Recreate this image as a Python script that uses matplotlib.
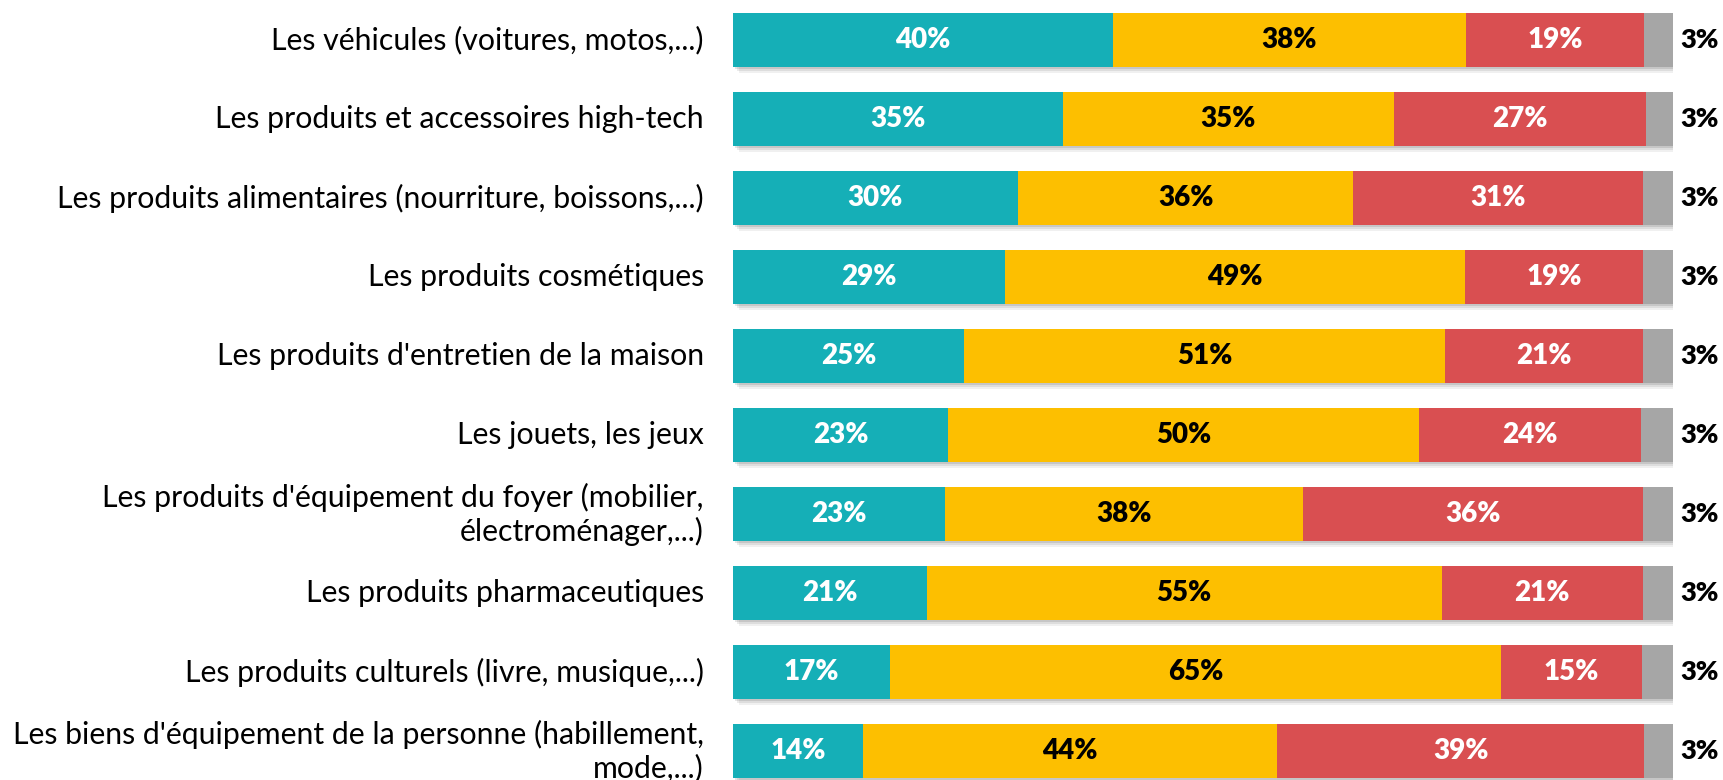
import matplotlib
matplotlib.use("Agg")
import matplotlib.pyplot as plt
import numpy as np

plt.rcParams["font.family"] = ["Lato", "DejaVu Sans"]

categories = [
    "Les véhicules (voitures, motos,...)",
    "Les produits et accessoires high-tech",
    "Les produits alimentaires (nourriture, boissons,...)",
    "Les produits cosmétiques",
    "Les produits d'entretien de la maison",
    "Les jouets, les jeux",
    "Les produits d'équipement du foyer (mobilier,\nélectroménager,...)",
    "Les produits pharmaceutiques",
    "Les produits culturels (livre, musique,...)",
    "Les biens d'équipement de la personne (habillement,\nmode,...)",
]
# shares (labels are the rounded values)
teal = [40.4, 35.1, 30.3, 28.9, 24.6, 22.9, 22.6, 20.6, 16.7, 13.8]
yellow = [37.6, 35.2, 35.7, 49.0, 51.1, 50.1, 38.0, 54.8, 65.0, 44.1]
red = [18.9, 26.8, 30.8, 18.9, 21.1, 23.6, 36.2, 21.4, 15.0, 39.0]
grey = [3.1, 2.9, 3.2, 3.2, 3.2, 3.4, 3.2, 3.2, 3.3, 3.1]

series = [teal, yellow, red, grey]
colors = ["#15AFB7", "#FDBF00", "#D94F51", "#A6A6A6"]
text_colors = ["white", "black", "white", None]

W, H = 1724, 780
fig = plt.figure(figsize=(W / 100, H / 100), dpi=100)
ax = fig.add_axes([733 / W, 0, 940 / W, 1])

n = len(categories)
y = np.arange(n)
bar_h = 0.684

# drop shadow
totals = np.sum(series, axis=0)
for k, a in enumerate([0.10, 0.08, 0.06]):
    dx = 0.25 + 0.2 * k
    dy = 0.03 + 0.02 * k
    ax.barh(y + dy, totals, left=dx, height=bar_h, color="black", alpha=a,
            linewidth=0, zorder=1)

left = np.zeros(n)
for vals, c, tc in zip(series, colors, text_colors):
    vals = np.array(vals)
    ax.barh(y, vals, left=left, height=bar_h, color=c, linewidth=0, zorder=2)
    for i in range(n):
        lab = f"{round(vals[i])}%"
        if tc is None:
            ax.text(left[i] + vals[i] + 2.8, y[i], lab, ha="center", va="center",
                    fontsize=19.5, fontweight="heavy", color="black", zorder=3)
        else:
            ax.text(left[i] + vals[i] / 2, y[i], lab, ha="center", va="center",
                    fontsize=20, fontweight="heavy", color=tc, zorder=3)
    left += vals

ax.set_xlim(0, 100)
ax.set_ylim((H - 40) / 79, -40 / 79)
ax.axis("off")

for i, cat in enumerate(categories):
    ax.text(-3.1, y[i], cat, ha="right", va="center", fontsize=21.8,
            color="black", linespacing=1.2, clip_on=False)

fig.savefig("out.png", dpi=100)
